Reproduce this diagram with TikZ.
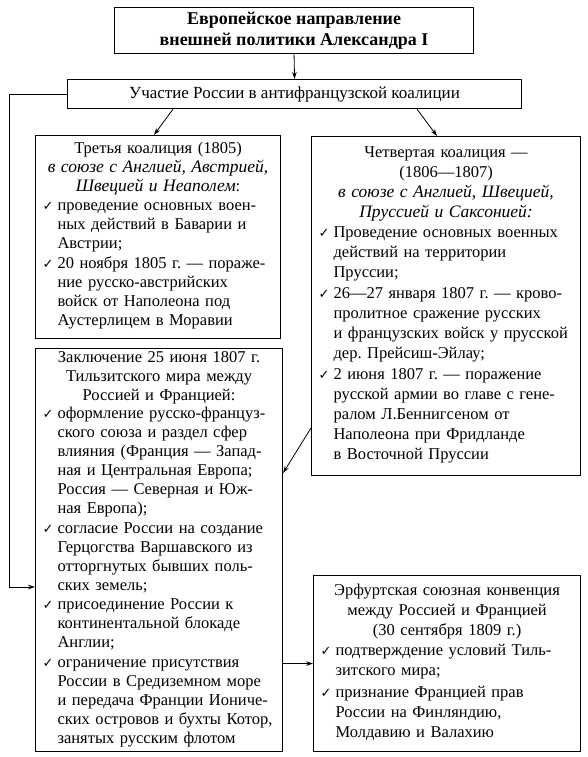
\documentclass[tikz,border=0pt]{standalone}
\usepackage{fontspec}
\setmainfont{Liberation Serif}
\newfontfamily\symfont{DejaVu Sans}
\usetikzlibrary{arrows.meta,calc}
\frenchspacing

\newcommand\chk{\makebox[15pt][l]{\symfont\fontsize{13}{13}\selectfont ✓}}
\newcommand\hd[1]{\noindent\makebox[\hsize]{#1}\par}
\newcommand\ital{\itshape\fontsize{17.5}{19}\selectfont}
\newcommand\itm[1]{\noindent\chk\begin{tabular}[t]{@{}l@{}}#1\end{tabular}\par}

\begin{document}
\begin{tikzpicture}[x=1pt,y=-1pt,
  box/.style={draw,line width=1.1pt,anchor=north west,inner xsep=7pt,inner ysep=0pt},
  arr/.style={-{Stealth[length=7pt,width=4.5pt]},line width=0.8pt}]
\useasboundingbox (0,0) rectangle (588,757);

\node[box,minimum width=359pt,minimum height=46pt,align=center,font=\bfseries\fontsize{18}{21}\selectfont] (top) at (114,7) {Европейское направление\\внешней политики Александра I};
\node[box,minimum width=454pt,minimum height=29pt,font=\fontsize{17}{19}\selectfont] (part) at (67,79) {Участие России в антифранцузской коалиции};

\node[box,minimum width=245pt,minimum height=203pt,text width=231pt,font=\fontsize{16.5}{19}\selectfont] (third) at (35,135) {%
\hd{Третья коалиция (1805)}
\hd{\ital в союзе с Англией, Австрией,}
\hd{{\ital Швецией и Неаполем}:}
\itm{проведение основных воен-\\ных действий в Баварии и\\Австрии;}
\itm{20 ноября 1805 г. — пораже-\\ние русско-австрийских\\войск от Наполеона под\\Аустерлицем в Моравии}};

\node[box,minimum width=269pt,minimum height=339pt,text width=255pt,font=\fontsize{16.5}{20}\selectfont] (fourth) at (311,136) {%
\hd{Четвертая коалиция —}
\hd{(1806—1807)}
\hd{\ital в союзе с Англией, Швецией,}
\hd{\ital Пруссией и Саксонией:}
\itm{Проведение основных военных\\действий на территории\\Пруссии;}
\itm{26—27 января 1807 г. — крово-\\пролитное сражение русских\\и французских войск у прусской\\дер. Прейсиш-Эйлау;}
\itm{2 июня 1807 г. — поражение\\русской армии во главе с гене-\\ралом Л.Беннигсеном от\\Наполеона при Фридланде\\в Восточной Пруссии}};

\node[box,minimum width=247pt,minimum height=403pt,text width=233pt,font=\fontsize{16.5}{18.9}\selectfont] (tilsit) at (35,348) {%
\hd{Заключение 25 июня 1807 г.}
\hd{Тильзитского мира между}
\hd{Россией и Францией:}
\itm{оформление русско-француз-\\ского союза и раздел сфер\\влияния (Франция — Запад-\\ная и Центральная Европа;\\Россия — Северная и Юж-\\ная Европа);}
\itm{согласие России на создание\\Герцогства Варшавского из\\отторгнутых бывших поль-\\ских земель;}
\itm{присоединение России к\\континентальной блокаде\\Англии;}
\itm{ограничение присутствия\\России в Средиземном море\\и передача Франции Иониче-\\ских островов и бухты Котор,\\занятых русским флотом}};

\node[box,minimum width=267pt,minimum height=176pt,text width=253pt,font=\fontsize{16.5}{20.2}\selectfont] (erfurt) at (313,575) {%
\hd{Эрфуртская союзная конвенция}
\hd{между Россией и Францией}
\hd{(30 сентября 1809 г.)}
\itm{подтверждение условий Тиль-\\зитского мира;}
\itm{признание Францией прав\\России на Финляндию,\\Молдавию и Валахию}};

\draw[arr] (top.south) -- (part.north);
\draw[arr] ($(part.south west)+(106,0)$) -- ($(third.north west)+(119,0)$);
\draw[arr] ($(part.south west)+(350,0)$) -- ($(fourth.north west)+(126,0)$);
\draw[arr] (part.west) -- ++(-58,0) |- ($(tilsit.north west)+(0,239)$);
\draw[arr] ($(fourth.north west)+(0,292)$) -- ($(tilsit.north east)+(0,125)$);
\draw[arr] (tilsit.east |- erfurt.west) -- (erfurt.west);

\end{tikzpicture}
\end{document}
